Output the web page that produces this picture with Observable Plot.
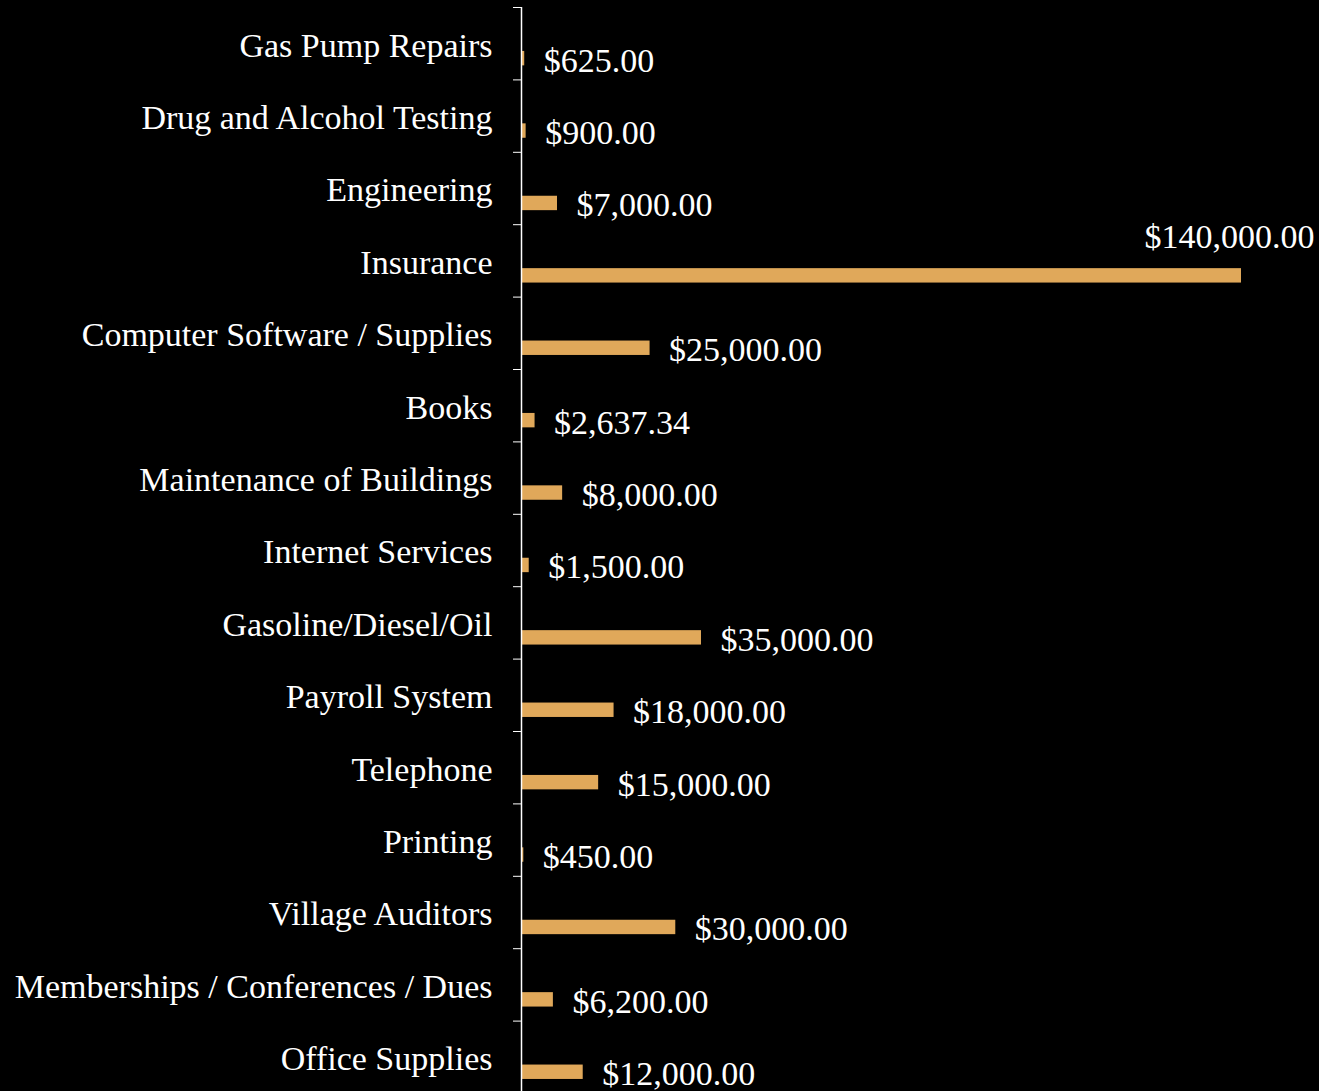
<!DOCTYPE html>
<html>
<head>
<meta charset="utf-8">
<script src="https://cdn.jsdelivr.net/npm/d3@7"></script>
<script src="https://cdn.jsdelivr.net/npm/@observablehq/plot@0.6"></script>
<style>
  html, body { margin: 0; padding: 0; background: #000; }
  #chart svg { display: block; }
</style>
</head>
<body>
<div id="chart"></div>
<script>
const categories = [
  "Gas Pump Repairs",
  "Drug and Alcohol Testing",
  "Engineering",
  "Insurance",
  "Computer Software / Supplies",
  "Books",
  "Maintenance of Buildings",
  "Internet Services",
  "Gasoline/Diesel/Oil",
  "Payroll System",
  "Telephone",
  "Printing",
  "Village Auditors",
  "Memberships / Conferences / Dues",
  "Office Supplies"
];
const amounts = [625, 900, 7000, 140000, 25000, 2637.34, 8000, 1500, 35000, 18000, 15000, 450, 30000, 6200, 12000];

const data = categories.map((c, i) => ({category: c, value: amounts[i], i}));
const fmt = d3.format("$,.2f");
const xMax = 140000;
const overflow = d => d.value > xMax * 0.85;

const font = "'Liberation Serif', 'Times New Roman', serif";

const chart = Plot.plot({
  width: 1319,
  height: 1091,
  marginLeft: 521,
  marginRight: 5,
  marginTop: 7,
  marginBottom: 0,
  style: {background: "#000", color: "#fff", fontFamily: font, fontSize: "34px"},
  x: {domain: [0, xMax], range: [521, 1241], axis: null},
  y: {domain: [0, categories.length], range: [7, 1093], ticks: d3.range(0, categories.length + 1), tickSize: 8, tickFormat: () => "", label: null},
  marks: [
    Plot.rectX(data, {x1: 0, x2: "value", y1: d => d.i + 0.607, y2: d => d.i + 0.806, fill: "#E0A85A"}),
    Plot.ruleX([0], {stroke: "#fff", strokeWidth: 1.5}),
    Plot.text(data, {x: 0, y: d => d.i + 0.5, text: "category", textAnchor: "end", dx: -29, dy: 2, fill: "#fff", fontSize: 34}),
    Plot.text(data.filter(d => !overflow(d)), {x: "value", y: d => d.i + 0.707, text: d => fmt(d.value), textAnchor: "start", dx: 19, dy: 2, fill: "#fff", fontSize: 34}),
    Plot.text(data.filter(overflow), {frameAnchor: "right", y: d => d.i + 0.176, text: d => fmt(d.value), textAnchor: "end", fill: "#fff", fontSize: 34})
  ]
});
document.getElementById("chart").appendChild(chart);
</script>
</body>
</html>
